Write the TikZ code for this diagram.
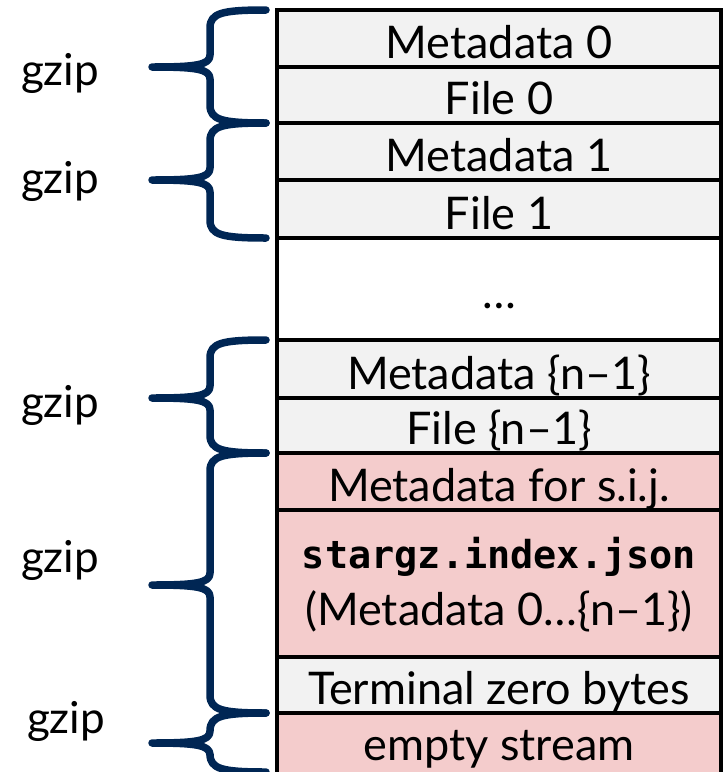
\documentclass[tikz,border=0pt]{standalone}
\usepackage{fontspec}
\setmainfont{Lato}
\newfontfamily\codefont{DejaVu Sans Mono}
\definecolor{navy}{RGB}{0,38,84}
\definecolor{cellgray}{RGB}{242,242,242}
\definecolor{cellpink}{RGB}{244,204,204}

% one row of the archive layout: name, top, bottom, fill, text
\newcommand\layoutrow[5]{%
  \path[cell, fill=#4] (277,#2) rectangle (721,#3);
  \node[rowtext] (#1) at (499,#3-9) {#5};
}
% curly brace: top, tip, bottom
\newcommand\gzbrace[3]{%
  \draw[brace] (266,#1) .. controls (222,#1) and (210,#1+3) .. (210,#1+18)
    -- (210,#2-12) .. controls (210,#2-2) and (196,#2) .. (152,#2)
    .. controls (196,#2) and (210,#2+2) .. (210,#2+12)
    -- (210,#3-18) .. controls (210,#3-3) and (222,#3) .. (266,#3);
}

\begin{document}
\begin{tikzpicture}[x=1pt,y=-1pt,
  cell/.style={draw=black, line width=4pt},
  rowtext/.style={font=\fontsize{45}{50}\selectfont, anchor=base, inner sep=0pt},
  gziplabel/.style={font=\fontsize{44}{48}\selectfont, anchor=base, inner sep=0pt},
  brace/.style={draw=navy, line width=7.5pt, line cap=round, line join=round},
]
\useasboundingbox (0,0) rectangle (723,772);

\layoutrow{m0}{10}{67}{cellgray}{Metadata 0}
\layoutrow{f0}{67}{123}{cellgray}{File 0}
\layoutrow{m1}{123}{180}{cellgray}{Metadata 1}
\layoutrow{f1}{180}{238}{cellgray}{File 1}
\path[cell, fill=white] (277,238) rectangle (721,340);
\node[rowtext] (dots) at (499,308) {…};
\layoutrow{mn}{340}{398}{cellgray}{Metadata \{n–1\}}
\layoutrow{fn}{398}{453}{cellgray}{File \{n–1\}}
\layoutrow{msij}{453}{510}{cellpink}{Metadata for s.i.j.}
\path[cell, fill=cellpink] (277,510) rectangle (721,657);
\node[rowtext, font=\codefont\bfseries\fontsize{38.5}{42}\selectfont] (idx) at (499,568) {stargz.index.json};
\node[rowtext] (idxsub) at (499,625) {(Metadata 0…\{n–1\})};
\layoutrow{term}{657}{713}{cellgray}{Terminal zero bytes}
\path[cell, fill=cellpink] (277,713) rectangle (721,775);
\node[rowtext] (empty) at (499,760) {empty stream};

\gzbrace{10}{67}{123}
\gzbrace{123}{180}{238}
\gzbrace{340}{398}{453}
\gzbrace{453}{585}{713}
\gzbrace{713}{743}{772}

\node[gziplabel] (g0) at (60,85) {gzip};
\node[gziplabel] (g1) at (60,193) {gzip};
\node[gziplabel] (g2) at (60,417) {gzip};
\node[gziplabel] (g3) at (60,572) {gzip};
\node[gziplabel] (g4) at (66,733) {gzip};
\end{tikzpicture}
\end{document}
